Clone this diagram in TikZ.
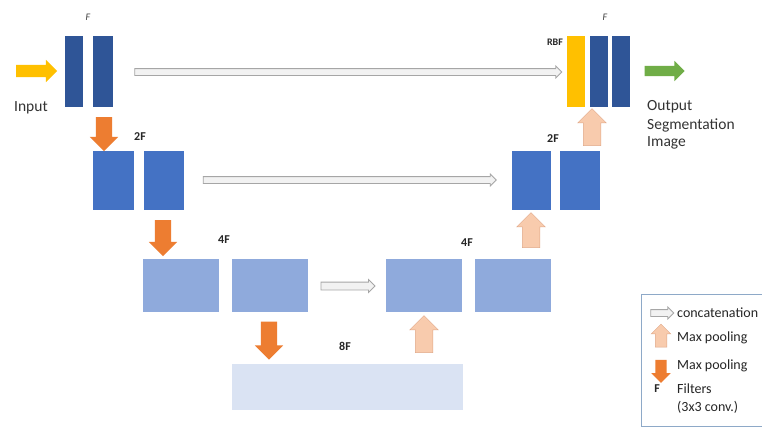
\documentclass[tikz,border=0pt]{standalone}
\usepackage{fontspec}
\setmainfont{Carlito}
\usetikzlibrary{shapes.arrows}
\definecolor{cA}{HTML}{2F5597}
\definecolor{cB}{HTML}{4472C4}
\definecolor{cC}{HTML}{8FAADC}
\definecolor{cD}{HTML}{DAE3F3}
\definecolor{cY}{HTML}{FFC000}
\definecolor{cG}{HTML}{70AD47}
\definecolor{cO}{HTML}{ED7D31}
\definecolor{cP}{HTML}{F8CBAD}
\definecolor{cPb}{HTML}{E0A888}
\definecolor{cCat}{HTML}{F2F2F2}
\definecolor{cCatb}{HTML}{A6A6A6}
\definecolor{cLeg}{HTML}{8EA9C8}
\begin{document}
\begin{tikzpicture}[x=1pt,y=-1pt,
  box/.style={rectangle,inner sep=0pt,draw=none},
  lone/.style={box,fill=cA,minimum width=18pt,minimum height=71pt},
  ltwo/.style={box,fill=cB,minimum height=59pt},
  lthree/.style={box,fill=cC,minimum width=76pt,minimum height=53pt},
  lfour/.style={box,fill=cD,minimum width=231pt,minimum height=46pt},
  barr/.style={single arrow,inner xsep=0pt,minimum width=0pt},
  inarr/.style={barr,fill=cY,inner ysep=6pt,single arrow head extend=5pt},
  outarr/.style={barr,fill=cG,inner ysep=5pt,single arrow head extend=5pt},
  cat/.style={barr,fill=cCat,draw=cCatb,line width=0.8pt,inner ysep=3pt,single arrow head extend=2.5pt},
  down/.style={barr,fill=cO,rotate=-90,inner ysep=8pt,single arrow head extend=6pt},
  up/.style={barr,fill=cP,draw=cPb,line width=0.5pt,rotate=90,inner ysep=8.5pt,single arrow head extend=5.5pt},
  lab/.style={font=\fontsize{12}{13}\selectfont\bfseries,inner sep=0pt,text=black!85},
  smalllab/.style={font=\fontsize{10}{11}\selectfont\itshape,inner sep=0pt,text=black!75},
  txt/.style={font=\fontsize{15.5}{17}\selectfont,inner sep=0pt,text=black!80,anchor=west},
  ltxt/.style={font=\fontsize{14}{15}\selectfont,inner sep=0pt,text=black!85,anchor=west},
]
\useasboundingbox (0,0) rectangle (762,428);
\clip (0,0) rectangle (762,428);
\fill[white] (0,0) rectangle (762,428);

% level 1
\node[lone] (a1) at (74,71.5) {};
\node[lone,minimum width=20pt] (a2) at (103,71.5) {};
\node[box,fill=cY,minimum width=18pt,minimum height=71pt] (r0) at (576,71.5) {};
\node[lone] (r1) at (599,71.5) {};
\node[lone] (r2) at (621,71.5) {};
% level 2
\node[ltwo,minimum width=41pt] (b1) at (113.5,180.5) {};
\node[ltwo,minimum width=40pt] (b2) at (164,180.5) {};
\node[ltwo,minimum width=39pt] (c1) at (531.5,180.5) {};
\node[ltwo,minimum width=40pt] (c2) at (580,180.5) {};
% level 3
\node[lthree] (d1) at (181,285.5) {};
\node[lthree] (d2) at (270,285.5) {};
\node[lthree] (e1) at (424,285.5) {};
\node[lthree] (e2) at (513,285.5) {};
% level 4
\node[lfour] (f1) at (347.5,387) {};

% block arrows
\node[inarr,minimum height=41pt] (inA) at (33.5,71) {};
\node[outarr,minimum height=40pt] (outA) at (662,71) {};
\node[cat,minimum height=427pt] (cat1) at (346.5,72) {};
\node[cat,minimum height=293pt] (cat2) at (348,180) {};
\node[cat,minimum height=54pt,inner ysep=3.5pt] (cat3) at (346,286) {};
\node[down,minimum height=34pt] (dn1) at (104,130) {};
\node[down,minimum height=36pt] (dn2) at (163,234) {};
\node[down,minimum height=38pt] (dn3) at (269,336.5) {};
\node[up,minimum height=37pt] (up1) at (592,131.5) {};
\node[up,minimum height=35pt] (up2) at (531,234.5) {};
\node[up,minimum height=37pt] (up3) at (424,338.5) {};

% labels
\node[smalllab] (lF1) at (88,17) {F};
\node[smalllab] (lF2) at (605,17) {F};
\node[lab,font=\fontsize{10}{11}\selectfont\bfseries] (lRBF) at (555,42) {RBF};
\node[lab] (l2a) at (140,137) {2F};
\node[lab] (l2b) at (553,139) {2F};
\node[lab] (l4a) at (224,240) {4F};
\node[lab] (l4b) at (467,243) {4F};
\node[lab] (l8) at (345,346) {8F};

\node[txt] (tin) at (14,108) {Input};
\node[txt] (to1) at (647,107) {Output};
\node[txt] (to2) at (647,125) {Segmentation};
\node[txt] (to3) at (647,143) {Image};

% legend
\draw[cLeg,line width=0.9pt] (641,294) rectangle (780,426.5);
\node[cat,minimum height=23pt,inner ysep=3pt,single arrow head extend=2.5pt] (lgc) at (660.5,313) {};
\node[up,minimum height=23pt,inner ysep=5.5pt,single arrow head extend=4pt] (lgu) at (661,338.5) {};
\node[down,minimum height=23pt,inner ysep=5.5pt,single arrow head extend=4pt] (lgd) at (661,368.5) {};
\node[lab,font=\fontsize{12}{13}\selectfont\bfseries] (lgF) at (657,389) {F};
\node[ltxt] (lt1) at (677,313) {concatenation};
\node[ltxt] (lt2) at (677,338) {Max pooling};
\node[ltxt] (lt3) at (677,366) {Max pooling};
\node[ltxt] (lt4) at (677,389) {Filters};
\node[ltxt] (lt5) at (677,407) {(3x3 conv.)};
\end{tikzpicture}
\end{document}
